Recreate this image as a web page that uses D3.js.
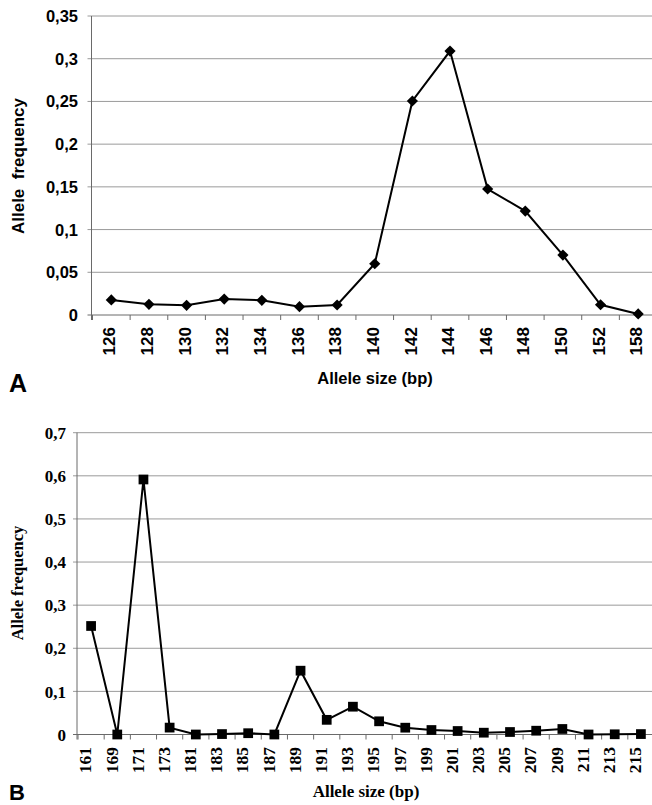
<!DOCTYPE html>
<meta charset="utf-8">
<style>
body { margin: 0; background: #fff; }
.grid line { stroke: #9a9a9a; stroke-width: 1; }
.axisline { stroke: #6a6a6a; stroke-width: 1; }
.series { fill: none; stroke: #000; stroke-width: 2; }
</style>
<body>
<script src="https://cdn.jsdelivr.net/npm/d3@7"></script>
<script>

var width = 652;
var height = 805;

// panel A
var sizesA = ['126', '128', '130', '132', '134', '136', '138', '140', '142', '144', '146', '148', '150', '152', '158'];
var freqA = [0.0176, 0.0125, 0.0113, 0.0187, 0.0172, 0.0097, 0.0117, 0.060, 0.2505, 0.309, 0.1475, 0.1217, 0.0702, 0.012, 0.0012];
var ticksA = [0, 0.05, 0.1, 0.15, 0.2, 0.25, 0.3, 0.35];

// panel B
var sizesB = ['161', '169', '171', '173', '181', '183', '185', '187', '189', '191', '193', '195', '197', '199', '201', '203', '205', '207', '209', '211', '213', '215'];
var freqB = [0.2517, 0, 0.5915, 0.016, 0, 0.001, 0.003, 0, 0.148, 0.034, 0.0645, 0.0306, 0.0158, 0.0104, 0.0081, 0.0042, 0.0058, 0.0088, 0.0128, 0, 0.0005, 0.001];
var ticksB = [0, 0.1, 0.2, 0.3, 0.4, 0.5, 0.6, 0.7];

var svg = d3.select('body')
  .append('svg')
  .attr('width', width)
  .attr('height', height);

var fmt = d => String(d).replace('.', ',');

function panel(opt) {
  var g = svg.append('g');
  var x = d3.scaleBand().domain(opt.cats).range([opt.x0, opt.x1]).padding(0);
  var y = d3.scaleLinear().domain([0, opt.ymax]).range([opt.y0, opt.y1]);

  // gridlines
  g.append('g').attr('class', 'grid')
    .selectAll('line')
    .data(opt.ticks.filter(d => d > 0))
    .enter().append('line')
    .attr('x1', opt.x0 - 5).attr('x2', width)
    .attr('y1', d => y(d)).attr('y2', d => y(d));

  // axes lines
  g.append('line').attr('class', 'axisline')
    .attr('x1', opt.x0 - 1).attr('x2', opt.x0 - 1)
    .attr('y1', y(opt.ymax)).attr('y2', opt.y0 + 5);
  g.append('line').attr('class', 'axisline')
    .attr('x1', opt.x0 - 5).attr('x2', width)
    .attr('y1', opt.y0).attr('y2', opt.y0);

  // x ticks at band boundaries
  g.selectAll('.xtick')
    .data(opt.cats)
    .enter().append('line')
    .attr('class', 'axisline')
    .attr('x1', d => x(d)).attr('x2', d => x(d))
    .attr('y1', opt.y0).attr('y2', opt.y0 + 5);

  // y tick labels
  g.selectAll('.ylab')
    .data(opt.ticks)
    .enter().append('text')
    .attr('x', opt.ylabX)
    .attr('y', d => y(d))
    .attr('dy', '0.36em')
    .attr('text-anchor', 'end')
    .style('font-family', opt.font)
    .style('font-weight', 'bold')
    .style('font-size', opt.tickSize + 'px')
    .text(fmt);

  // x tick labels
  g.selectAll('.xlab')
    .data(opt.cats)
    .enter().append('text')
    .attr('transform', d => 'translate(' + (x(d) + x.bandwidth() / 2 + opt.xlabShift) + ',' + opt.xlabY + ') rotate(-90)')
    .attr('dy', '0.36em')
    .attr('text-anchor', 'end')
    .style('font-family', opt.font)
    .style('font-weight', 'bold')
    .style('font-size', opt.xtickSize + 'px')
    .text(d => d);

  // line
  var line = d3.line()
    .x((d, i) => x(opt.cats[i]) + x.bandwidth() / 2)
    .y(d => y(d));
  g.append('path').attr('class', 'series').attr('d', line(opt.vals));

  // markers
  var sym = d3.symbol().type(opt.symbol).size(opt.symSize);
  g.selectAll('.pt')
    .data(opt.vals)
    .enter().append('path')
    .attr('transform', (d, i) => 'translate(' + (x(opt.cats[i]) + x.bandwidth() / 2) + ',' + y(d) + ')')
    .attr('d', sym)
    .attr('fill', '#000');

  // axis titles
  g.append('text')
    .attr('transform', 'translate(' + opt.ytitleX + ',' + opt.ytitleY + ') rotate(-90)')
    .attr('text-anchor', 'middle')
    .style('font-family', opt.font)
    .style('font-weight', 'bold')
    .style('font-size', opt.ytitleSize + 'px')
    .style('white-space', 'pre')
    .text(opt.ytitle);
  g.append('text')
    .attr('x', opt.xtitleX).attr('y', opt.xtitleY)
    .attr('text-anchor', 'middle')
    .style('font-family', opt.font)
    .style('font-weight', 'bold')
    .style('font-size', opt.xtitleSize + 'px')
    .text('Allele size (bp)');

  // panel letter
  g.append('text')
    .attr('x', 9).attr('y', opt.letterY)
    .style('font-family', 'Liberation Sans, Arial, sans-serif')
    .style('font-weight', 'bold')
    .style('font-size', opt.letterSize + 'px')
    .text(opt.letter);
}

panel({
  cats: sizesA, vals: freqA, ticks: ticksA, ymax: 0.35,
  x0: 92.5, x1: 657, y0: 315, y1: 16,
  font: 'Liberation Sans, Arial, sans-serif', tickSize: 16.5, xtickSize: 17,
  ylabX: 78, xlabY: 327, xlabShift: -2,
  symbol: d3.symbolDiamond2, symSize: 80,
  ytitle: 'Allele  frequency', ytitleX: 24, ytitleY: 166, ytitleSize: 17,
  xtitleX: 375, xtitleY: 384, xtitleSize: 16.5,
  letter: 'A', letterY: 392, letterSize: 25
});

panel({
  cats: sizesB, vals: freqB, ticks: ticksB, ymax: 0.7,
  x0: 78, x1: 654, y0: 734.5, y1: 432.7,
  font: 'Liberation Serif, Times New Roman, serif', tickSize: 17, xtickSize: 17.5,
  ylabX: 66, xlabY: 747, xlabShift: -6,
  symbol: d3.symbolSquare, symSize: 95,
  ytitle: 'Allele frequency', ytitleX: 23, ytitleY: 583, ytitleSize: 16.5,
  xtitleX: 366, xtitleY: 797, xtitleSize: 17,
  letter: 'B', letterY: 800, letterSize: 22
});

</script>
</body>
</html>
